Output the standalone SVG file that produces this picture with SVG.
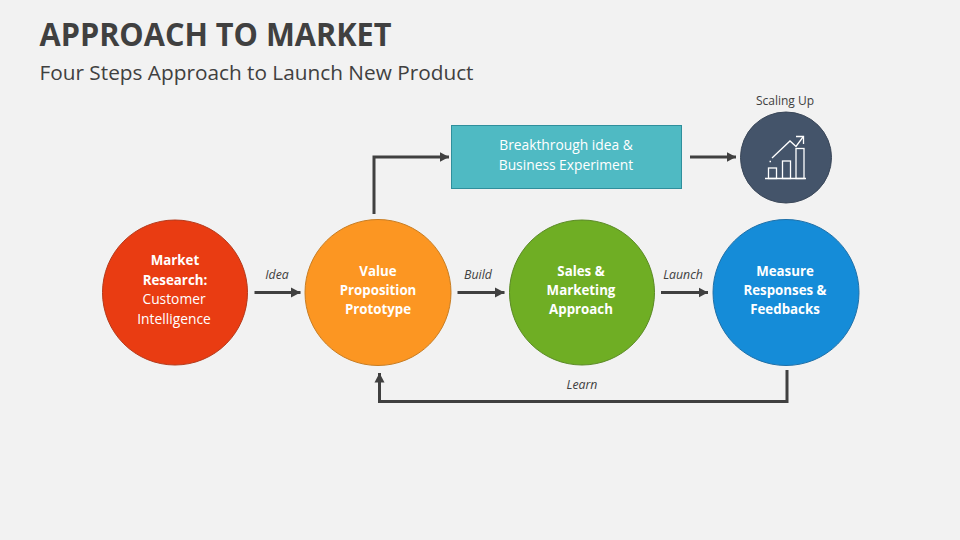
<svg xmlns="http://www.w3.org/2000/svg" width="960" height="540" viewBox="0 0 960 540">
<style>
text{font-family:"Open Sans","Noto Sans","Liberation Sans",sans-serif}
.t{fill:#404040;font-weight:700;font-size:32px}
.s{fill:#404040;font-size:20px}
.n{fill:#fff;font-size:13.800px;text-anchor:middle}
.b{font-weight:700;font-size:13.300px}
.l{fill:#404040;font-size:12.300px;font-style:italic;text-anchor:middle}
.c{fill:none;stroke:#404040;stroke-width:3;marker-end:url(#a)}
.i{fill:none;stroke:#fff;stroke-width:1.3}
</style>
<defs><marker id="a" markerUnits="userSpaceOnUse" markerWidth="10" markerHeight="11" refX="9.500" refY="5.500" orient="auto"><path d="M0 0.500L9.500 5.500L0 10.500Z" fill="#404040"/></marker></defs>
<rect width="960" height="540" fill="#f2f2f2"/>
<g id="title">
<text class="t" x="39.500" y="46" textLength="352" lengthAdjust="spacingAndGlyphs">APPROACH TO MARKET</text>
<text class="s" x="39.500" y="80" textLength="434" lengthAdjust="spacingAndGlyphs">Four Steps Approach to Launch New Product</text>
</g>
<g id="connectors">
<path class="c" d="M254.500 292.500H300.500"/>
<path class="c" d="M457.500 292.500H504.500"/>
<path class="c" d="M661 292.500H708"/>
<path class="c" d="M374 214V157H449"/>
<path class="c" d="M690 157H736"/>
<path class="c" d="M787 370V401.500H379.500V373"/>
</g>
<g id="edge-labels">
<text class="l" x="277" y="279">Idea</text>
<text class="l" x="478" y="279">Build</text>
<text class="l" x="683" y="279">Launch</text>
<text class="l" x="582" y="389">Learn</text>
</g>
<g id="market-research">
<circle cx="175" cy="292.500" r="72.500" fill="#e93c12" stroke="#b5391a" stroke-width="1"/>
<text class="n b" x="175" y="265">Market</text>
<text class="n b" x="175" y="285">Research:</text>
<text class="n" x="174" y="304">Customer</text>
<text class="n" x="174" y="324">Intelligence</text>
</g>
<g id="value-proposition">
<circle cx="378" cy="292.500" r="73" fill="#fc9622" stroke="#c87d22" stroke-width="1"/>
<text class="n b" x="378" y="276">Value</text>
<text class="n b" x="378" y="295">Proposition</text>
<text class="n b" x="378" y="314">Prototype</text>
</g>
<g id="sales-marketing">
<circle cx="582" cy="292.500" r="72.500" fill="#6fae24" stroke="#5a8a24" stroke-width="1"/>
<text class="n b" x="581" y="276">Sales &amp;</text>
<text class="n b" x="581" y="295">Marketing</text>
<text class="n b" x="581" y="314">Approach</text>
</g>
<g id="measure-responses">
<circle cx="786" cy="292.500" r="73" fill="#158cd8" stroke="#1f70a8" stroke-width="1"/>
<text class="n b" x="785" y="276">Measure</text>
<text class="n b" x="785" y="295">Responses &amp;</text>
<text class="n b" x="785" y="314">Feedbacks</text>
</g>
<g id="breakthrough">
<rect x="451.500" y="125.500" width="230" height="63" fill="#4fbac3" stroke="#2f8f9c" stroke-width="1"/>
<text class="n" x="566" y="150">Breakthrough idea &amp;</text>
<text class="n" x="566" y="170">Business Experiment</text>
</g>
<g id="scaling-up">
<text x="785" y="105" fill="#404040" font-size="12" text-anchor="middle">Scaling Up</text>
<circle cx="786" cy="157.500" r="45.500" fill="#44546a" stroke="#3a4759" stroke-width="1"/>
<path class="i" d="M765 178.500H806"/>
<rect class="i" x="768.500" y="168" width="8" height="10.500"/>
<rect class="i" x="782.500" y="161" width="8" height="17.500"/>
<rect class="i" x="796" y="148.500" width="8" height="30"/>
<path class="i" d="M772 158L790 141L796 146.500L803 137"/>
<path class="i" d="M796 136.500H803.500V144"/>
<path class="i" d="M769.500 161.500H771"/>
</g>
</svg>
